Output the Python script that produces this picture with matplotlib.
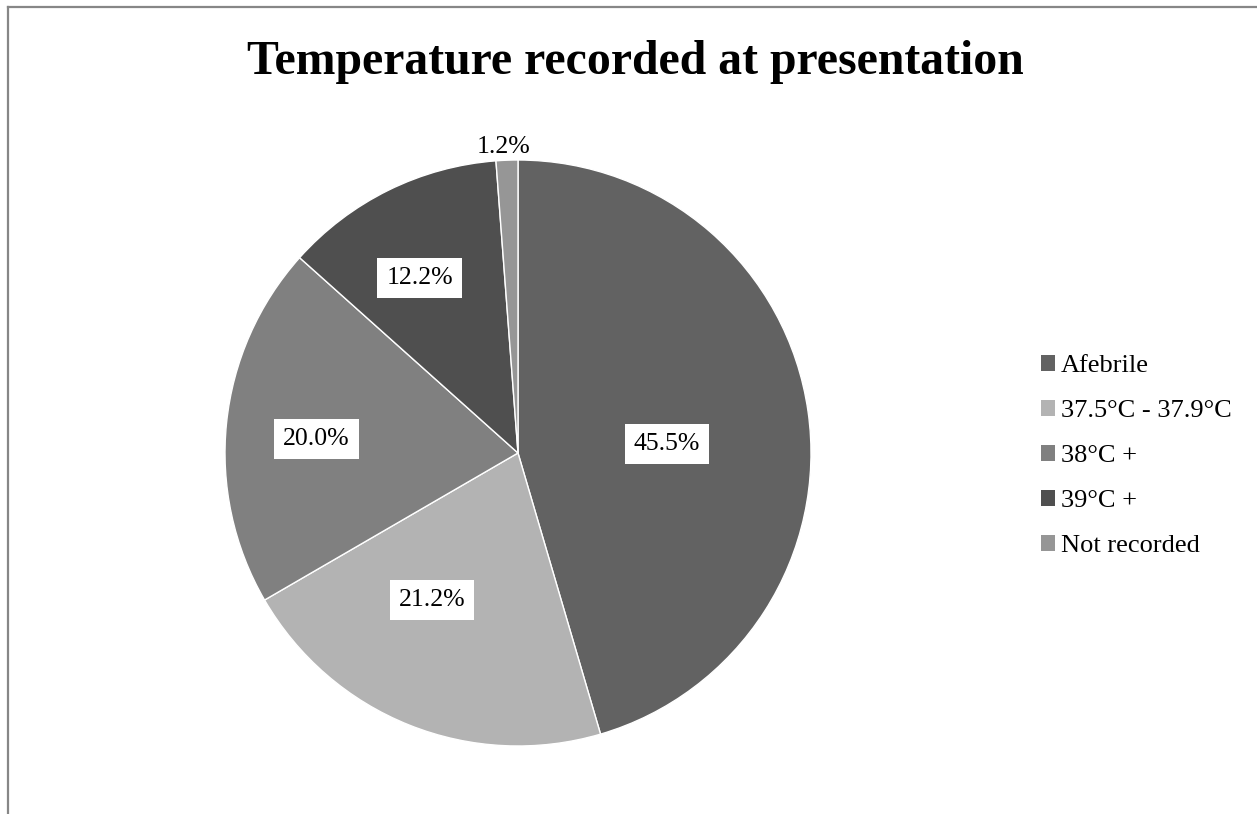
import matplotlib
matplotlib.use("Agg")
import matplotlib.pyplot as plt
from matplotlib.lines import Line2D
import numpy as np

categories = ["Afebrile", "37.5°C - 37.9°C", "38°C +", "39°C +", "Not recorded"]
values = [45.5, 21.2, 20.0, 12.2, 1.2]
labels = ["45.5%", "21.2%", "20.0%", "12.2%", "1.2%"]
colors = ["#626262", "#b3b3b3", "#808080", "#4f4f4f", "#969696"]
label_dist = [0.509, 0.58, 0.69, 0.686, 1.047]
label_angle_shift = [-4.6, -8.6, 1.9, 3.0, 0.5]
label_boxed = [True, True, True, True, False]

plt.rcParams['font.family'] = ['Liberation Serif', 'DejaVu Serif']

W, H = 1257, 814
fig = plt.figure(figsize=(W / 100, H / 100), dpi=100)

# frame lines (top and left)
fig.add_artist(Line2D([7.5 / W, 7.5 / W], [0, 1 - 7 / H], transform=fig.transFigure,
                      color="#878787", lw=1.6, solid_capstyle="projecting"))
fig.add_artist(Line2D([7.5 / W, 1], [1 - 7 / H, 1 - 7 / H], transform=fig.transFigure,
                      color="#878787", lw=1.6, solid_capstyle="projecting"))

cx, cy, r = 518, 453, 293
ax = fig.add_axes([(cx - r) / W, (H - cy - r) / H, 2 * r / W, 2 * r / H])
wedges, _ = ax.pie(values, colors=colors, startangle=90, counterclock=False,
                   wedgeprops=dict(edgecolor="white", linewidth=1.0), radius=1.0)
ax.set_xlim(-1, 1)
ax.set_ylim(-1, 1)
ax.set_aspect("equal")
ax.axis("off")

total = sum(values)
cum = 0.0
for v, lab, d, sh, boxed in zip(values, labels, label_dist, label_angle_shift, label_boxed):
    mid = 90 - (cum + v / 2) / total * 360 + sh
    cum += v
    x = d * np.cos(np.radians(mid))
    y = d * np.sin(np.radians(mid))
    kw = {}
    if boxed:
        kw["bbox"] = dict(boxstyle="square,pad=0.35", facecolor="white", edgecolor="none")
    ax.text(x, y, lab, ha="center", va="center", fontsize=18.5, color="black", **kw)

fig.text(635.5 / W, 1 - 62 / H, "Temperature recorded at presentation", ha="center", va="center",
         fontsize=34.4, fontweight="bold")

handles = [plt.Rectangle((0, 0), 1, 1, facecolor=c, edgecolor="none") for c in colors]
fig.legend(handles, categories, loc="upper left", bbox_to_anchor=(1041 / W, 1 - 355 / H),
           frameon=False, fontsize=19, handlelength=0.53, handleheight=0.53,
           handletextpad=0.23, labelspacing=0.87, borderpad=0, borderaxespad=0)

fig.savefig("out.png", dpi=100, facecolor="white")
